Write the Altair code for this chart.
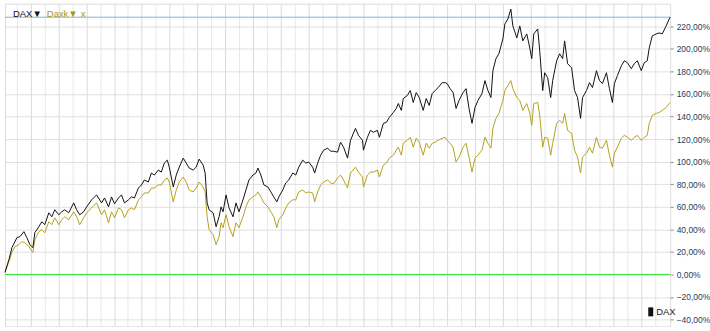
import altair as alt
import pandas as pd

# sampling index (trading-period number) for each series
dax_t = [0,4,7,12,15,19,22,25,28,30,
         34,37,40,44,47,50,54,57,60,64,
         69,72,75,79,82,87,92,97,100,104,
         107,110,114,117,120,124,127,130,134,137,
         140,144,147,150,154,157,160,163,165,169,
         172,175,179,182,185,189,192,195,199,201,
         203,205,209,212,215,217,219,222,225,229,
         232,235,239,242,245,249,252,254,257,260,
         264,267,270,273,275,279,282,285,289,292,
         295,299,302,305,309,311,314,317,320,324,
         327,330,334,337,340,344,347,352,355,359,
         360,364,367,370,374,376,380,383,386,390,
         393,395,398,400,404,407,410,413,416,420,
         423,426,429,432,435,439,442,444,447,450,
         453,456,460,463,466,469,472,475,479,482,
         485,488,490,493,496,500,502,505,508,510,
         514,517,520,524,527,529,531,535,537,540,
         542,545,548,550,554,557,560,562,565,569,
         572,575,578,580,584,587,590,594,597,600,
         604,607,610,612,615,619,622,625,629,632,
         635,639,642,645,647,650,654,657,660,664,
         667,668]
dax_v = [1.8,13.2,23.8,32.6,33.5,37.9,32.6,26.4,23.8,37.0,
         42.3,46.7,44.1,54.6,51.1,57.3,52.9,55.5,57.3,54.6,
         63.4,57.3,52.9,55.5,59.9,66.1,70.5,63.4,67.8,59.9,
         68.7,62.6,67.8,70.5,63.4,66.1,68.7,67.8,76.6,79.3,
         83.7,81.9,89.9,88.1,92.5,90.7,98.7,101.3,95.1,77.5,
         88.1,95.1,103.1,98.7,94.3,92.5,95.1,102.2,96.9,89.9,
         63.4,57.3,54.6,42.3,51.1,59.9,55.5,70.5,59.0,51.1,
         63.4,55.5,66.1,74.9,83.7,88.1,89.9,94.3,88.1,79.3,
         77.5,73.1,68.7,64.3,68.7,74.9,81.1,83.7,89.9,88.1,
         95.1,101.3,98.7,99.6,95.1,89.9,98.7,105.7,110.1,111.9,
         109.2,109.2,108.4,117.2,112.8,103.1,118.9,129.5,123.3,118.9,
         110.1,121.6,127.7,126.0,127.7,121.6,133.9,134.8,139.2,143.6,
         147.1,151.5,145.4,155.9,158.6,163.0,152.4,161.2,156.8,145.4,
         155.9,149.8,160.3,163.0,165.6,170.0,170.0,169.2,164.7,161.2,
         147.1,154.2,161.2,164.7,147.1,133.9,148.0,154.2,160.3,171.8,
         163.0,156.8,180.6,191.2,195.6,208.8,222.0,226.4,235.2,220.3,
         209.7,220.3,207.0,213.2,200.9,191.2,213.2,217.6,198.2,163.0,
         178.8,174.4,156.8,171.8,189.4,195.6,191.2,207.0,186.8,183.2,
         163.0,156.8,138.3,156.8,163.0,170.0,165.6,180.6,171.8,169.2,
         178.8,164.7,152.4,169.2,176.2,185.0,189.4,187.7,182.4,186.8,
         189.4,180.6,187.7,189.4,200.9,211.4,213.2,214.1,213.2,220.3,
         226.4,228.0]

daxk_t = [0,4,7,10,14,17,20,24,28,30] + dax_t[10:]
daxk_v = [1.8,11.5,19.4,24.7,26.4,29.1,28.2,24.7,19.4,30.8,
          37.9,39.6,37.0,46.7,44.1,50.2,44.1,48.5,51.1,48.5,
          55.5,51.1,44.1,50.2,54.6,59.0,63.4,52.9,57.3,45.8,
          55.5,50.2,59.0,57.3,50.2,57.3,59.0,57.3,66.1,68.7,
          72.2,72.2,76.6,76.6,79.3,79.3,83.7,85.5,81.9,64.3,
          74.9,81.9,86.3,81.9,74.9,73.1,76.6,81.9,77.5,73.1,
          51.1,39.6,35.2,26.4,33.5,45.8,41.4,52.9,42.3,33.5,
          45.8,41.4,51.1,59.9,66.1,68.7,70.5,73.1,68.7,63.4,
          59.9,55.5,51.1,41.4,48.5,52.9,59.0,63.4,66.1,66.1,
          73.1,74.9,72.2,73.1,72.2,64.3,73.1,79.3,81.9,83.7,
          81.1,80.2,85.5,88.1,83.7,76.6,89.9,95.1,90.7,86.3,
          77.5,88.1,90.7,90.7,92.5,86.3,96.9,98.7,103.1,105.7,
          110.1,112.8,105.7,116.3,118.9,121.6,112.8,120.7,117.2,105.7,
          116.3,111.9,116.3,117.2,118.9,120.7,121.6,118.9,116.3,112.8,
          99.6,104.0,112.8,116.3,104.0,90.7,103.1,105.7,110.1,121.6,
          116.3,111.9,129.5,138.3,142.7,154.2,163.0,167.4,171.8,164.7,
          156.8,154.2,145.4,151.5,142.7,132.2,151.5,152.4,141.0,112.8,
          121.6,120.7,105.7,116.3,133.9,136.6,133.9,142.7,127.7,125.1,
          110.1,104.0,89.9,104.0,107.5,112.8,107.5,121.6,112.8,111.9,
          118.9,105.7,95.1,107.5,112.8,120.7,123.3,121.6,118.9,121.6,
          123.3,118.9,121.6,123.3,133.9,141.0,142.7,143.6,145.4,148.0,
          151.5,152.4]

y_ticks = [-40, -20, 0, 20, 40, 60, 80, 100, 120, 140, 160, 180, 200, 220]
grid_t = [int(round(12 + 13.935 * k)) for k in range(47)]

n = min(len(dax_t), len(dax_v))
m = min(len(daxk_t), len(daxk_v))
df_dax = pd.DataFrame({"t": dax_t[:n], "v": dax_v[:n]})
df_daxk = pd.DataFrame({"t": daxk_t[:m], "v": daxk_v[:m]})

FONT = "Liberation Sans Narrow, Liberation Sans, Arial"

xscale = alt.Scale(domain=[0, 668], nice=False, zero=False)
yscale = alt.Scale(domain=[-46, 240], nice=False, zero=False)

xaxis = alt.Axis(labels=False, ticks=False, domain=False, title=None, grid=True,
                 values=grid_t,
                 gridColor={"condition": {"test": "round((datum.value - 12) / 13.935) % 2 == 1",
                                          "value": "#dadada"},
                            "value": "#e8e8e8"})
yaxis = alt.Axis(orient="right", values=y_ticks, title=None, domain=False,
                 grid=True, gridColor="#e0e0e0",
                 tickSize=3, tickColor="#8a8a8a",
                 labelExpr="replace(format(datum.value, '.2f'), '.', ',') + '%'",
                 labelFont=FONT, labelFontSize=8.5, labelColor="#2a4058",
                 labelPadding=3)

X = lambda: alt.X("t:Q", scale=xscale, axis=xaxis)
Y = lambda: alt.Y("v:Q", scale=yscale, axis=yaxis)

line_daxk = alt.Chart(df_daxk).mark_line(color="#b4a01e", strokeWidth=1).encode(x=X(), y=Y())
line_dax = alt.Chart(df_dax).mark_line(color="#111111", strokeWidth=1).encode(x=X(), y=Y())

zero_rule = alt.Chart(pd.DataFrame({"v": [0]})).mark_rule(color="#2ee02e", strokeWidth=1).encode(y=Y())
last_rule = alt.Chart(pd.DataFrame({"v": [dax_v[n - 1]]})).mark_rule(color="#7fb2e0", strokeWidth=1).encode(y=Y())

one = pd.DataFrame({"a": [1]})
txt = dict(font=FONT, fontSize=9.5, align="left", baseline="middle")
lab1 = alt.Chart(one).mark_text(color="#111111", text="DAX▼", **txt).encode(
    x=alt.value(8), y=alt.value(10))
lab2 = alt.Chart(one).mark_text(color="#a8961a", text="Daxk▼", **txt).encode(
    x=alt.value(42), y=alt.value(10))
lab3 = alt.Chart(one).mark_text(color="#a8961a", text="x", **txt).encode(
    x=alt.value(76), y=alt.value(10))
leg_box = alt.Chart(one).mark_rect(color="#111111").encode(
    x=alt.value(646), x2=alt.value(651), y=alt.value(305), y2=alt.value(314))
leg_txt = alt.Chart(one).mark_text(color="#222222", text="DAX", **txt).encode(
    x=alt.value(654), y=alt.value(310))

chart = alt.layer(
    last_rule, zero_rule, line_daxk, line_dax, lab1, lab2, lab3, leg_box, leg_txt
).properties(
    width=668, height=324,
    padding={"left": 3, "top": 3, "right": 0, "bottom": 0},
).configure_view(
    fill="#f4f7fb", stroke="#8a8a8a", strokeWidth=1
).configure(background="white")

chart.save("out.html", embed_options={"renderer": "svg", "actions": False})
